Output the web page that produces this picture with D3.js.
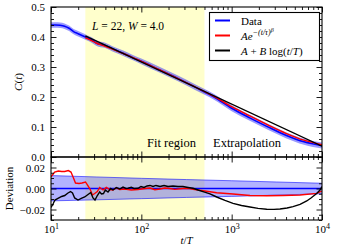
<!DOCTYPE html>
<html><head><meta charset="utf-8">
<script src="https://cdn.jsdelivr.net/npm/d3@7/dist/d3.min.js"></script>
<style>
body{margin:0;background:#fff}
text{font-family:"Liberation Serif","Times New Roman",serif;fill:#000}
</style>
</head><body><svg id="c" width="340" height="250"></svg>
<script>
// ---------- data (log10 t/T positions and values) ----------
const dataLogT = [1.0,1.05,1.1,1.15,1.2,1.25,1.3,1.35,1.4,1.45,1.5,1.6,1.7,1.8,1.9,2.0,2.2,2.4,2.6,2.8,3.0,3.2,3.4,3.6,3.8,4.0];
const dataC    = [0.440,0.440,0.439,0.436,0.429,0.418,0.411,0.404,0.397,0.390,0.380,0.372,0.358,0.346,0.332,0.319,0.291,0.263,0.232,0.201,0.1626,0.1305,0.1005,0.0725,0.0505,0.038];
const dataErr  = [0.009,0.009,0.009,0.009,0.009,0.009,0.009,0.009,0.009,0.009,0.009,0.009,0.009,0.009,0.009,0.0095,0.0095,0.0095,0.0095,0.0095,0.010,0.010,0.010,0.010,0.010,0.010];

const redLogT = [1.380,1.45,1.5,1.6,1.7,1.8,1.9,2.0,2.2,2.4,2.6,2.8,3.0,3.2,3.4,3.6,3.8,4.0];
const redC    = [0.397,0.388,0.380,0.369,0.357,0.345,0.332,0.319,0.291,0.262,0.233,0.203,0.168,0.137,0.107,0.079,0.056,0.041];

const blackLogT = [1.380,4.0];
const blackC    = [0.404,0.036];

const devRedLogT = [1.0,1.041,1.081,1.118,1.152,1.192,1.221,1.249,1.271,1.310,1.343,1.382,1.410,1.432,1.459,1.484,1.513,1.539,1.576,1.612,1.650,1.686,1.723,1.761,1.816,1.889,1.963,2.041,2.096,2.15,2.207,2.26,2.317,2.37,2.461,2.52,2.572,2.705,2.834,3.015,3.203,3.388,3.568,3.757,3.941,4.0];
const devRed     = [0.0110,0.0157,0.0167,0.0162,0.0162,0.0171,0.0157,0.0100,0.0052,0.0048,0.0052,0.0062,0.0024,-0.0005,-0.0062,-0.0048,-0.0029,0.0010,-0.0014,0.0010,-0.0010,-0.0014,0.0005,-0.0010,-0.0005,-0.0014,-0.0010,0.0000,0.0005,-0.0012,-0.0005,0.0004,0.0000,-0.0008,0.0000,0.0002,-0.0008,-0.0024,-0.0040,-0.0052,-0.0067,-0.0069,-0.0067,-0.0062,-0.0046,-0.0024];

const devBlackLogT = [1.0,1.022,1.044,1.077,1.118,1.152,1.188,1.216,1.238,1.262,1.299,1.335,1.373,1.410,1.440,1.465,1.487,1.513,1.539,1.559,1.581,1.601,1.631,1.661,1.686,1.723,1.761,1.797,1.830,1.852,1.889,1.919,1.963,1.996,2.030,2.063,2.096,2.129,2.162,2.207,2.251,2.295,2.351,2.406,2.461,2.517,2.572,2.627,2.683,2.760,2.834,2.926,3.015,3.109,3.203,3.292,3.388,3.469,3.535,3.613,3.679,3.757,3.831,3.878,3.941,3.978,4.0];
const devBlack     = [-0.0181,-0.0148,-0.0110,-0.0095,-0.0076,-0.0067,-0.0043,-0.0029,-0.0043,-0.0090,-0.0110,-0.0095,-0.0081,-0.0057,-0.0038,-0.0090,-0.0110,-0.0067,-0.0033,-0.0052,-0.0048,-0.0014,-0.0033,0.0000,-0.0014,0.0008,-0.0005,0.0014,0.0000,0.0002,0.0011,0.0000,0.0002,0.0019,0.0010,0.0024,0.0029,0.0019,0.0029,0.0019,0.0029,0.0019,0.0024,0.0019,0.0019,0.0010,0.0002,-0.0014,-0.0030,-0.0052,-0.0081,-0.0114,-0.0141,-0.0162,-0.0176,-0.0189,-0.0197,-0.0199,-0.0195,-0.0186,-0.0173,-0.0152,-0.0119,-0.0090,-0.0048,-0.0014,0.0019];

const bandLogT = [1.0,1.5,2.0,2.5,3.0,3.5,4.0];
const bandHi   = [0.0123,0.0110,0.0097,0.0085,0.0074,0.0062,0.0050];
const bandLo   = [-0.0118,-0.0108,-0.0097,-0.0085,-0.0075,-0.0063,-0.0050];

const fitRange = [24, 500];
const xMajor = [10,100,1000,10000];
const xExp = ["1","2","3","4"];
const cTicks = [0,0.1,0.2,0.3,0.4,0.5];
const cLabels = ["0.0","0.1","0.2","0.3","0.4","0.5"];
const devTicks = [-0.02,0,0.02];
const devLabels = ["\u22120.02","0.00","0.02"];
const legendLabels = ["Data","red","black"];

// ---------- layout ----------
const svg = d3.select("#c");
const L = 51, R = 322, T1 = 7, B1 = 157, T2 = 157, B2 = 220;
const x = d3.scaleLog().domain([10,10000]).range([L,R]);
const y1 = d3.scaleLinear().domain([0,0.5]).range([B1,T1]);
const y2 = d3.scaleLinear().domain([-0.03,0.03]).range([B2,T2]);
const P = v => Math.pow(10, v);

const defs = svg.append("defs");
defs.append("clipPath").attr("id","cp1").append("rect").attr("x",L).attr("y",T1).attr("width",R-L).attr("height",B1-T1);
defs.append("clipPath").attr("id","cp2").append("rect").attr("x",L).attr("y",T2).attr("width",R-L).attr("height",B2-T2);

// fit region spans
[[T1,B1],[T2,B2]].forEach(([a,b]) => {
  svg.append("rect").attr("x",x(fitRange[0])).attr("y",a).attr("width",x(fitRange[1])-x(fitRange[0])).attr("height",b-a)
    .attr("fill","#ffffcc");
});

// ---------- top panel ----------
const g1 = svg.append("g").attr("clip-path","url(#cp1)");
const dataPts = dataLogT.map((l,i)=>({t:P(l), c:dataC[i], e:dataErr[i]}));
g1.append("path").datum(dataPts)
  .attr("d", d3.area().x(d=>x(d.t)).y0(d=>y1(d.c-d.e)).y1(d=>y1(d.c+d.e)).curve(d3.curveMonotoneX))
  .attr("fill","#0000ff").attr("fill-opacity",0.4);
g1.append("path").datum(dataPts)
  .attr("d", d3.line().x(d=>x(d.t)).y(d=>y1(d.c)).curve(d3.curveMonotoneX))
  .attr("fill","none").attr("stroke","#0000ff").attr("stroke-width",1.6);
g1.append("path").datum(redLogT.map((l,i)=>({t:P(l), c:redC[i]})))
  .attr("d", d3.line().x(d=>x(d.t)).y(d=>y1(d.c)).curve(d3.curveMonotoneX))
  .attr("fill","none").attr("stroke","#ff0000").attr("stroke-width",1.4);
g1.append("path").datum(blackLogT.map((l,i)=>({t:P(l), c:blackC[i]})))
  .attr("d", d3.line().x(d=>x(d.t)).y(d=>y1(d.c)))
  .attr("fill","none").attr("stroke","#000").attr("stroke-width",1.4);

// ---------- bottom panel ----------
const g2 = svg.append("g").attr("clip-path","url(#cp2)");
const bandPts = bandLogT.map((l,i)=>({t:P(l), hi:bandHi[i], lo:bandLo[i]}));
g2.append("path").datum(bandPts)
  .attr("d", d3.area().x(d=>x(d.t)).y0(d=>y2(d.lo)).y1(d=>y2(d.hi)))
  .attr("fill","#0000ff").attr("fill-opacity",0.3);
["hi","lo"].forEach(k=>{
  g2.append("path").datum(bandPts)
    .attr("d", d3.line().x(d=>x(d.t)).y(d=>y2(d[k])))
    .attr("fill","none").attr("stroke","#0000ff").attr("stroke-opacity",0.55).attr("stroke-width",1);
});
g2.append("path").datum([{t:10,v:0},{t:10000,v:0}])
  .attr("d", d3.line().x(d=>x(d.t)).y(d=>y2(d.v)))
  .attr("fill","none").attr("stroke","#0000ff").attr("stroke-width",1.4);
g2.append("path").datum(devRedLogT.map((l,i)=>({t:P(l), v:devRed[i]})))
  .attr("d", d3.line().x(d=>x(d.t)).y(d=>y2(d.v)))
  .attr("fill","none").attr("stroke","#ff0000").attr("stroke-width",1.4);
g2.append("path").datum(devBlackLogT.map((l,i)=>({t:P(l), v:devBlack[i]})))
  .attr("d", d3.line().x(d=>x(d.t)).y(d=>y2(d.v)))
  .attr("fill","none").attr("stroke","#000").attr("stroke-width",1.4);

// ---------- axes ----------
const xMinor = [];
[10,100,1000].forEach(d=>{for(let k=2;k<10;k++) xMinor.push(d*k);});
function axisStyle(sel){
  sel.select(".domain").remove();
  sel.selectAll(".tick line").attr("stroke","#000").attr("stroke-width",0.9);
  sel.selectAll("text").attr("font-size","11px").attr("font-family","Liberation Serif, serif");
}
function xAxes(yPos, dir){
  const A = dir==="up" ? d3.axisTop : d3.axisBottom;
  svg.append("g").attr("transform",`translate(0,${yPos})`).call(A(x).tickValues(xMajor).tickSize(5.5).tickFormat("")).call(axisStyle);
  svg.append("g").attr("transform",`translate(0,${yPos})`).call(A(x).tickValues(xMinor).tickSize(3).tickFormat("")).call(axisStyle);
}
xAxes(B1,"up"); xAxes(T1,"down"); xAxes(B2,"up"); xAxes(T2,"down");

function yAxes(scale, major, minor, labels){
  svg.append("g").attr("transform",`translate(${L},0)`)
    .call(d3.axisLeft(scale).tickValues(major).tickSize(-5.5).tickPadding(6).tickFormat((d,i)=>labels[i])).call(axisStyle);
  svg.append("g").attr("transform",`translate(${L},0)`)
    .call(d3.axisLeft(scale).tickValues(minor).tickSize(-3).tickFormat("")).call(axisStyle);
  svg.append("g").attr("transform",`translate(${R},0)`)
    .call(d3.axisRight(scale).tickValues(major).tickSize(-5.5).tickFormat("")).call(axisStyle);
  svg.append("g").attr("transform",`translate(${R},0)`)
    .call(d3.axisRight(scale).tickValues(minor).tickSize(-3).tickFormat("")).call(axisStyle);
}
const cMinor = d3.range(0,0.5001,0.02).filter(v=>Math.abs(v*10-Math.round(v*10))>1e-6);
const devMinor = d3.range(-0.03,0.03001,0.005).filter(v=>Math.abs(v*50-Math.round(v*50))>1e-6);
yAxes(y1, cTicks, cMinor, cLabels);
yAxes(y2, devTicks, devMinor, devLabels);

// x tick labels (10^n)
const xl = svg.append("g").attr("transform",`translate(0,${B2})`)
  .call(d3.axisBottom(x).tickValues(xMajor).tickSize(0).tickPadding(0).tickFormat(""));
xl.select(".domain").remove();
xl.selectAll(".tick").each(function(d,i){
  const t = d3.select(this).append("text").attr("y",13).attr("text-anchor","middle").attr("font-size","11px");
  t.append("tspan").text("10");
  t.append("tspan").attr("dy",-4.5).attr("font-size","8px").text(xExp[i]);
});

// frames
svg.append("rect").attr("x",L).attr("y",T1).attr("width",R-L).attr("height",B1-T1).attr("fill","none").attr("stroke","#000").attr("stroke-width",1.1);
svg.append("rect").attr("x",L).attr("y",T2).attr("width",R-L).attr("height",B2-T2).attr("fill","none").attr("stroke","#000").attr("stroke-width",1.1);

// axis titles
const yt = svg.append("text").attr("transform",`translate(22,${(T1+B1)/2}) rotate(-90)`).attr("text-anchor","middle").attr("font-size","11px");
yt.append("tspan").attr("font-style","italic").text("C");
yt.append("tspan").text("(");
yt.append("tspan").attr("font-style","italic").text("t");
yt.append("tspan").text(")");
svg.append("text").attr("transform",`translate(12.5,${(T2+B2)/2}) rotate(-90)`).attr("text-anchor","middle").attr("font-size","11px").text("Deviation");
const xt = svg.append("text").attr("x",(L+R)/2).attr("y",244).attr("text-anchor","middle").attr("font-size","11px").attr("font-style","italic");
xt.append("tspan").text("t");
xt.append("tspan").attr("font-style","normal").text("/");
xt.append("tspan").text("T");

// annotations
const ann = svg.append("text").attr("x",92).attr("y",30).attr("font-size","11.5px");
ann.append("tspan").attr("font-style","italic").text("L");
ann.append("tspan").text(" = 22, ");
ann.append("tspan").attr("font-style","italic").text("W");
ann.append("tspan").text(" = 4.0");
svg.append("text").attr("x",147).attr("y",147).attr("font-size","12.5px").text("Fit region");
svg.append("text").attr("x",213).attr("y",147).attr("font-size","12.5px").text("Extrapolation");

// legend
const lg = svg.append("g");
lg.append("rect").attr("x",209.5).attr("y",12.5).attr("width",110).attr("height",48).attr("fill","#fff").attr("stroke","#000").attr("stroke-width",1.1);
const legColors = ["#0000ff","#ff0000","#000"];
const legY = [20.5,35.5,50.5];
legColors.forEach((c,i)=>{
  lg.append("line").attr("x1",215).attr("x2",230).attr("y1",legY[i]).attr("y2",legY[i]).attr("stroke",c).attr("stroke-width",2);
});
lg.append("text").attr("x",241).attr("y",legY[0]+4).attr("font-size","11px").text(legendLabels[0]);
const l2 = lg.append("text").attr("x",241).attr("y",legY[1]+4).attr("font-size","11px").attr("font-style","italic");
l2.append("tspan").text("Ae");
l2.append("tspan").attr("dy",-5).attr("font-size","8px").text("\u2212(t/\u03C4)");
l2.append("tspan").attr("dy",-3).attr("font-size","6px").text("\u03B2");
const l3 = lg.append("text").attr("x",241).attr("y",legY[2]+4).attr("font-size","11px");
l3.append("tspan").attr("font-style","italic").text("A");
l3.append("tspan").text(" + ");
l3.append("tspan").attr("font-style","italic").text("B");
l3.append("tspan").text(" log(");
l3.append("tspan").attr("font-style","italic").text("t");
l3.append("tspan").text("/");
l3.append("tspan").attr("font-style","italic").text("T");
l3.append("tspan").text(")");
</script>
</body></html>
